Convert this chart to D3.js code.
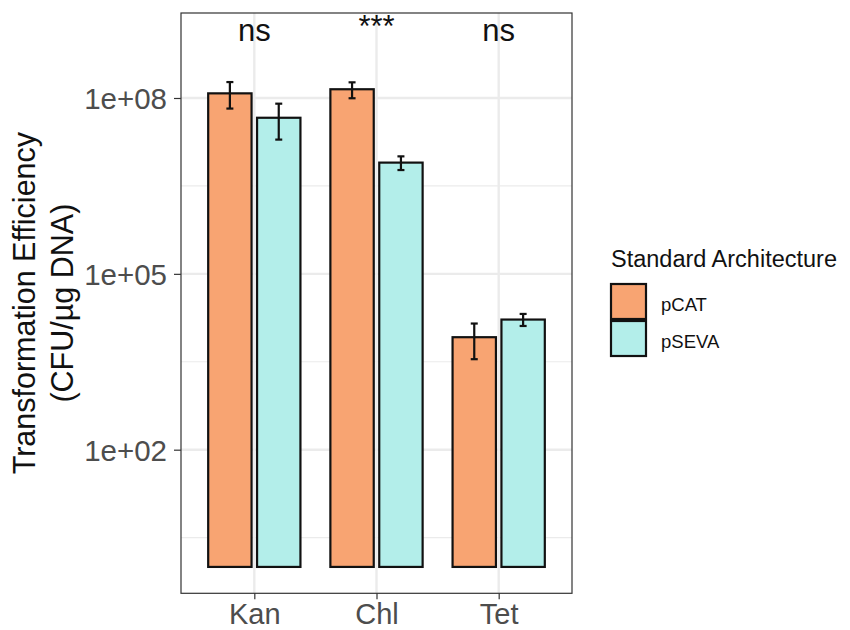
<!DOCTYPE html>
<html><head><meta charset="utf-8">
<script src="https://cdn.jsdelivr.net/npm/d3@7"></script>
<style>body{margin:0;background:#fff}svg{display:block}text{font-family:"Liberation Sans",Arial,sans-serif}</style>
</head><body>
<svg id="c" width="850" height="630"></svg>
<script>
const categories = ["Kan", "Chl", "Tet"];
const groups = ["pCAT", "pSEVA"];
const meanPCAT = [1.2e8, 1.41e8, 8.3e3];
const lowPCAT  = [6.6e7, 9.9e7, 3.5e3];
const highPCAT = [1.87e8, 1.85e8, 1.42e4];
const meanPSEVA = [4.6e7, 7.9e6, 1.66e4];
const lowPSEVA  = [1.95e7, 5.9e6, 1.29e4];
const highPSEVA = [8.0e7, 1.01e7, 2.07e4];
const sigLabels = ["ns", "***", "ns"];
const yTicks = [1e2, 1e5, 1e8];
const yMinor = [Math.pow(10,0.5), Math.pow(10,3.5), Math.pow(10,6.5)];
const colors = ["#F8A472", "#B3EEEA"];

const rows = [];
categories.forEach((c,i)=>{
  rows.push({cat:c, grp:"pCAT", v:meanPCAT[i], lo:lowPCAT[i], hi:highPCAT[i]});
  rows.push({cat:c, grp:"pSEVA", v:meanPSEVA[i], lo:lowPSEVA[i], hi:highPSEVA[i]});
});

const svg = d3.select("#c");
const P = {l:181, r:572, t:13, b:593.3};
const lo = 0 - 0.45, hi = 9 + 0.45;
const y = d3.scaleLog().domain([Math.pow(10,lo), Math.pow(10,hi)]).range([P.b, P.t]);
const x = d3.scalePoint().domain(categories).range([P.l, P.r]).padding(0.6);
const step = x.step();
const g = d3.scaleOrdinal().domain(groups).range([-0.2*step, 0.2*step]);
const col = d3.scaleOrdinal().domain(groups).range(colors);
const bw = 0.355*step;

// grid
svg.append("g").selectAll("line").data(yMinor).join("line")
  .attr("x1",P.l).attr("x2",P.r).attr("y1",d=>y(d)).attr("y2",d=>y(d))
  .attr("stroke","#EBEBEB").attr("stroke-width",1.2);
svg.append("g").selectAll("line").data(yTicks).join("line")
  .attr("x1",P.l).attr("x2",P.r).attr("y1",d=>y(d)).attr("y2",d=>y(d))
  .attr("stroke","#EBEBEB").attr("stroke-width",2.4);
svg.append("g").selectAll("line").data(categories).join("line")
  .attr("y1",P.t).attr("y2",P.b).attr("x1",d=>x(d)).attr("x2",d=>x(d))
  .attr("stroke","#EBEBEB").attr("stroke-width",2.4);

// bars
svg.append("g").selectAll("rect").data(rows).join("rect")
  .attr("x",d=>x(d.cat)+g(d.grp)-bw/2).attr("width",bw)
  .attr("y",d=>y(d.v)).attr("height",d=>y(1)-y(d.v))
  .attr("fill",d=>col(d.grp)).attr("stroke","#111").attr("stroke-width",2.2);

// error bars
const eb = svg.append("g").attr("stroke","#111").attr("stroke-width",2.2);
rows.forEach(d=>{
  const cx = x(d.cat)+g(d.grp);
  eb.append("line").attr("x1",cx).attr("x2",cx).attr("y1",y(d.lo)).attr("y2",y(d.hi));
  eb.append("line").attr("x1",cx-3.5).attr("x2",cx+3.5).attr("y1",y(d.lo)).attr("y2",y(d.lo));
  eb.append("line").attr("x1",cx-3.5).attr("x2",cx+3.5).attr("y1",y(d.hi)).attr("y2",y(d.hi));
});

// significance labels
svg.append("g").selectAll("text").data(categories).join("text")
  .attr("x",d=>x(d)).attr("y",(d,i)=> sigLabels[i]==="***" ? y(1e9)-2 : y(1e9)+1.5)
  .attr("text-anchor","middle").attr("font-size",31).attr("fill","#111")
  .text((d,i)=>sigLabels[i]);

// panel border
svg.append("rect").attr("x",P.l).attr("y",P.t).attr("width",P.r-P.l).attr("height",P.b-P.t)
  .attr("fill","none").attr("stroke","#333").attr("stroke-width",1.2);

// axes
const ya = svg.append("g").attr("transform",`translate(${P.l},0)`)
  .call(d3.axisLeft(y).tickValues(yTicks).tickSize(7).tickPadding(7)
    .tickFormat(d=>"1e+"+String(Math.round(Math.log10(d))).padStart(2,"0")));
ya.select(".domain").remove();
ya.selectAll("line").attr("stroke","#333").attr("stroke-width",1.2);
ya.selectAll("text").attr("font-size",29.5).attr("fill","#4D4D4D").attr("font-family","Liberation Sans, Arial, sans-serif").attr("dy","0.36em");

const xa = svg.append("g").attr("transform",`translate(0,${P.b})`)
  .call(d3.axisBottom(x).tickSize(6).tickPadding(4));
xa.select(".domain").remove();
xa.selectAll("line").attr("stroke","#333").attr("stroke-width",1.2);
xa.selectAll("text").attr("font-size",29).attr("fill","#4D4D4D").attr("font-family","Liberation Sans, Arial, sans-serif").attr("dy","0.71em");

// y title
const yt = svg.append("text").attr("transform",`translate(35,${(P.t+P.b)/2}) rotate(-90)`)
  .attr("text-anchor","middle").attr("font-size",30.5).attr("fill","#111");
yt.append("tspan").attr("x",0).attr("y",0).text("Transformation Efficiency");
yt.append("tspan").attr("x",0).attr("y",38).text("(CFU/µg DNA)");

// legend
const lg = svg.append("g");
lg.append("text").attr("x",611).attr("y",267).attr("font-size",23.5).attr("fill","#111").text("Standard Architecture");
groups.forEach((gr,i)=>{
  lg.append("rect").attr("x",611).attr("y",284+i*37).attr("width",35).attr("height",35)
    .attr("fill",col(gr)).attr("stroke","#111").attr("stroke-width",2.2);
  lg.append("text").attr("x",661).attr("y",311+i*37).attr("font-size",18.5).attr("fill","#111").text(gr);
});
</script>
</body></html>
